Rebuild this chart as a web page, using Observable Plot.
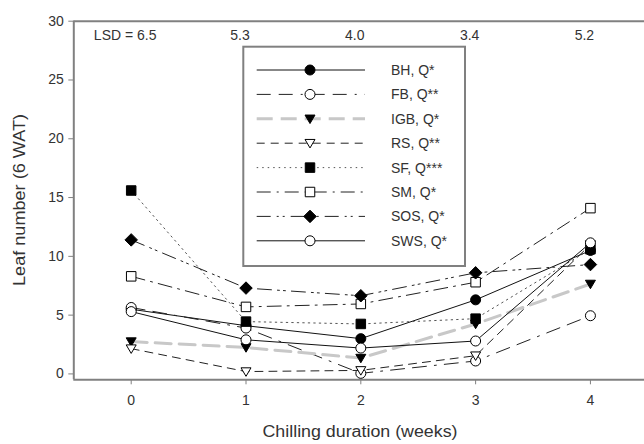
<!DOCTYPE html>
<html><head><meta charset="utf-8">
<script src="https://cdn.jsdelivr.net/npm/d3@7"></script>
<script src="https://cdn.jsdelivr.net/npm/@observablehq/plot@0.6"></script>
<style>body{margin:0;background:#fff} svg{display:block}</style>
</head><body><div id="chart"></div>
<script>
const weeks = [0, 1, 2, 3, 4];
const seriesNames = ["BH", "FB", "IGB", "RS", "SF", "SM", "SOS", "SWS"];
const legendLabels = ["BH, Q*", "FB, Q**", "IGB, Q*", "RS, Q**", "SF, Q***", "SM, Q*", "SOS, Q*", "SWS, Q*"];
const BH  = [5.5, 4.1, 3.0, 6.3, 10.5];
const FB  = [5.65, 3.9, 0.05, 1.1, 4.95];
const IGB = [2.75, 2.25, 1.35, 4.25, 7.65];
const RS  = [2.15, 0.2, 0.3, 1.55, 11.0];
const SF  = [15.6, 4.45, 4.25, 4.7, 10.6];
const SM  = [8.3, 5.7, 5.95, 7.8, 14.1];
const SOS = [11.4, 7.3, 6.65, 8.6, 9.3];
const SWS = [5.3, 2.9, 2.2, 2.8, 11.15];
const lsdLabels = ["LSD = 6.5", "5.3", "4.0", "3.4", "5.2"];
const yTicks = [0, 5, 10, 15, 20, 25, 30];

const seriesValues = [BH, FB, IGB, RS, SF, SM, SOS, SWS];
const table = seriesNames.flatMap((s, i) => weeks.map((w, j) => ({series: s, week: w, value: seriesValues[i][j]})));
const lsdTable = lsdLabels.map((t, i) => ({week: weeks[i], text: t}));

// custom symbols (size = pi*r^2)
const rad = size => Math.sqrt(size / Math.PI);
const symCircle = {draw(c, size) { const r = rad(size); c.moveTo(r, 0); c.arc(0, 0, r, 0, 2 * Math.PI); c.closePath(); }};
const symSquare = {draw(c, size) { const h = rad(size) * 0.95; c.moveTo(-h, -h); c.lineTo(h, -h); c.lineTo(h, h); c.lineTo(-h, h); c.closePath(); }};
const symDiamond = {draw(c, size) { const h = rad(size) * 1.25; c.moveTo(0, -h); c.lineTo(h, 0); c.lineTo(0, h); c.lineTo(-h, 0); c.closePath(); }};
const symTriDown = {draw(c, size) { const r = rad(size); c.moveTo(-r, -r * 0.75); c.lineTo(r, -r * 0.75); c.lineTo(0, r * 0.95); c.closePath(); }};

const styles = {
  BH:  {stroke: "#111", width: 1, dash: null, symbol: symCircle, fill: "#000"},
  FB:  {stroke: "#222", width: 1, dash: "14,8,14,8,2,8", symbol: symCircle, fill: "#fff"},
  IGB: {stroke: "#c8c8c8", width: 3, dash: "16,8", symbol: symTriDown, fill: "#000"},
  RS:  {stroke: "#222", width: 1, dash: "8,6", symbol: symTriDown, fill: "#fff"},
  SF:  {stroke: "#555", width: 1, dash: "1.5,4", symbol: symSquare, fill: "#000"},
  SM:  {stroke: "#222", width: 1, dash: "14,6,2,6", symbol: symSquare, fill: "#fff"},
  SOS: {stroke: "#222", width: 1, dash: "14,6,2,4,2,6", symbol: symDiamond, fill: "#000"},
  SWS: {stroke: "#111", width: 1, dash: null, symbol: symCircle, fill: "#fff"}
};

const axisGrey = "#808080";
const seriesMarks = seriesNames.flatMap(s => {
  const st = styles[s];
  const data = table.filter(d => d.series === s);
  return [
    Plot.line(data, {x: "week", y: "value", stroke: st.stroke, strokeWidth: st.width, strokeDasharray: st.dash || undefined}),
    Plot.dot(data, {x: "week", y: "value", symbol: st.symbol, r: 5, fill: st.fill, stroke: "#000", strokeWidth: 1})
  ];
});

const svg = Plot.plot({
  width: 644,
  height: 444,
  marginLeft: 73.3,
  marginRight: 0,
  marginTop: 20.7,
  marginBottom: 64.7,
  style: {fontFamily: "'Liberation Sans', Arial, sans-serif", fontSize: "14px", color: "#222", background: "#fff"},
  x: {domain: [-0.5, 4.471], label: null},
  y: {domain: [-0.5, 30], label: null},
  marks: [
    Plot.axisX({ticks: weeks, tickFormat: d3.format("d"), tickSize: 5, tickPadding: 10, stroke: axisGrey, fill: "#333", fontSize: 14, label: null}),
    Plot.axisY({ticks: yTicks, tickFormat: d3.format("d"), tickSize: 5, tickPadding: 5, stroke: axisGrey, fill: "#333", fontSize: 14, label: null}),
    Plot.ruleY([-0.5], {stroke: axisGrey, strokeWidth: 2}),
    Plot.ruleY([30], {stroke: axisGrey, strokeWidth: 2}),
    Plot.ruleX([-0.5], {stroke: axisGrey, strokeWidth: 2}),
    Plot.text(lsdTable, {x: "week", y: 28.78, text: "text", dx: -6, fill: "#333", fontSize: 14, textAnchor: "middle"}),
    ...seriesMarks
  ]
});

const sel = d3.select(svg);
// axis titles
sel.append("text").attr("x", 360).attr("y", 437).attr("text-anchor", "middle")
  .attr("font-size", 16).attr("fill", "#333")
  .attr("textLength", 195).attr("lengthAdjust", "spacingAndGlyphs")
  .text("Chilling duration (weeks)");
sel.append("text").attr("transform", "translate(19,200) rotate(-90)").attr("text-anchor", "middle")
  .attr("dy", "0.35em").attr("font-size", 16).attr("fill", "#333")
  .attr("textLength", 172).attr("lengthAdjust", "spacingAndGlyphs")
  .text("Leaf number (6 WAT)");

// legend
const lg = sel.append("g").attr("text-anchor", "start");
lg.append("rect").attr("x", 243.3).attr("y", 46.7).attr("width", 221.7).attr("height", 219.3)
  .attr("fill", "#fff").attr("stroke", axisGrey).attr("stroke-width", 2);
seriesNames.forEach((s, i) => {
  const st = styles[s];
  const y = 70 + 24.4 * i;
  lg.append("line").attr("x1", 256.7).attr("x2", 365).attr("y1", y).attr("y2", y)
    .attr("stroke", st.stroke).attr("stroke-width", st.width)
    .attr("stroke-dasharray", st.dash);
  lg.append("path").attr("transform", `translate(310,${y})`)
    .attr("d", d3.symbol(st.symbol, Math.PI * 25)())
    .attr("fill", st.fill).attr("stroke", "#000").attr("stroke-width", 1);
  lg.append("text").attr("x", 391).attr("y", y).attr("dy", "0.35em").attr("text-anchor", "start")
    .attr("font-size", 14).attr("fill", "#333").text(legendLabels[i]);
});

document.getElementById("chart").appendChild(svg);
</script>
</body></html>
